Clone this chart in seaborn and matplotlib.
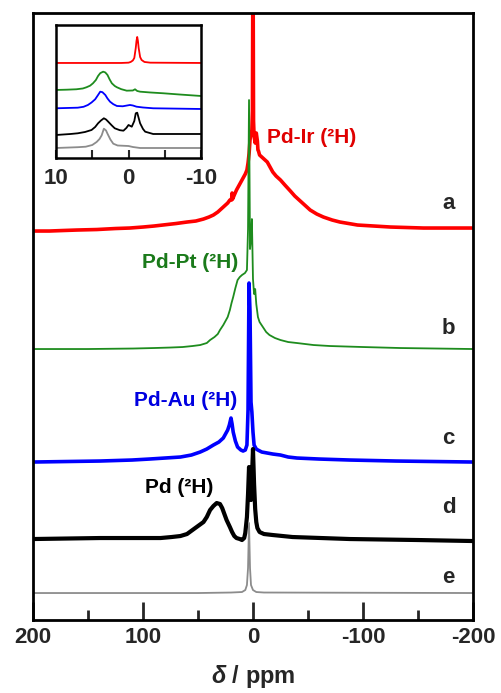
import numpy as np
import pandas as pd
import matplotlib
matplotlib.use("Agg")
import matplotlib.pyplot as plt
import seaborn as sns

# main spectra (chemical shift in ppm, intensity above own baseline)
red_ppm = [200, 185, 173, 160, 142, 125, 112, 100, 90, 82, 70, 60, 52, 45, 40, 36, 32, 27, 23, 21,
           19.5, 19, 18.5, 17, 15, 12, 9, 7, 5.5, 4.5, 3.5, 2.7, 1.8, 1, 0.5, 0, -0.5, -1, -2, -3,
           -4, -4.5, -5, -6, -8, -10, -13, -15, -18, -21, -25, -29, -34, -38, -43, -48, -52, -58,
           -64, -72, -79, -87, -95, -110, -125, -140, -155, -180, -200]
red_int = [0, 0, 0.5, 1, 1.5, 2.5, 3, 4, 5, 6, 7.5, 9, 10, 12, 14, 16, 19, 24, 28, 31,
           31, 38, 32, 36, 41, 47, 53, 57, 61, 68, 78, 91, 98, 101, 120, 300, 110, 95, 88, 98,
           90, 81, 80, 76, 74, 72, 69, 65, 59, 55, 51, 46, 40, 35, 30, 25, 21, 17,
           14, 11, 9, 7.5, 6, 5, 4, 3.5, 3, 3, 3]

green_ppm = [200, 150, 109, 90, 75, 64, 55, 48, 42, 39, 35, 32, 30, 27, 25, 23, 21, 19.5, 18, 16,
             14, 12, 10, 7.3, 5.5, 4.5, 3.6, 2.7, 1.8, 1, 0, -1, -2, -3, -4.5, -6, -9, -12, -15,
             -20, -25, -32, -40, -55, -70, -100, -134, -200]
green_int = [0, 0, 0.5, 1, 1.5, 2, 3, 4, 6, 9, 12, 15, 19, 24, 28, 32, 39, 46, 52, 61,
             69, 72, 74, 76, 79, 120, 249, 100, 110, 130, 70, 55, 60, 45, 32, 27, 22, 17, 14,
             11, 9, 7, 6, 4, 3, 2, 1, 0]

blue_ppm = [200, 139, 110, 94, 80, 66, 56, 48, 42, 36, 31, 27, 25, 23, 21.5, 20, 19, 18, 16, 14,
            11, 9, 7, 5.5, 4.5, 3.6, 2.7, 1.8, 1, 0, -1, -3, -4.5, -8, -13, -18, -25, -32, -40,
            -60, -88, -130, -200]
blue_int = [0, 1, 2, 3, 4, 5, 7, 10, 13, 17, 20, 24, 28, 32, 37, 44, 38, 30, 21, 15,
            12, 11, 12, 17, 52, 179, 150, 60, 50, 30, 17, 13, 12, 10, 9, 8, 7, 5, 4,
            3, 2, 1, 0]

black_ppm = [200, 139, 100, 84, 74, 66, 60, 55, 50, 45, 42, 39, 36, 33, 30, 28, 26, 24, 21, 19,
             17, 15, 12, 10, 8, 7, 5.5, 4.5, 3.6, 2.7, 1.8, 1, 0, -1, -2, -3, -4, -6, -10, -18,
             -36, -88, -150, -200]
black_int = [0, 1, 1, 1, 2, 3, 5, 9, 13, 17, 22, 29, 33, 36, 35, 31, 25, 19, 12, 7,
             3, 1, 0, -1, 1, 6, 22, 45, 72, 50, 39, 60, 90, 55, 30, 17, 11, 7, 5, 4,
             2, 0, -1, -2]

gray_ppm = [200, 50, 20, 10, 7, 5.5, 4.5, 3.6, 2.7, 1.8, 0, -3, -10, -200]
gray_int = [0, 0, 0.5, 1, 3, 8, 25, 70, 25, 8, 3, 1, 0.5, 0]

# inset (-10..10 ppm)
ins_red_ppm = [10, 1, 0, -0.3, -0.6, -0.8, -1.0, -1.1, -1.2, -1.3, -1.4, -1.6, -1.8, -2.2, -3, -10]
ins_red_int = [0, 0, 0.3, 1, 2.5, 5, 15, 22, 26, 22, 15, 6, 3, 1, 0.3, 0]
ins_green_ppm = [10, 8.5, 7.2, 6.3, 5.8, 5.3, 4.9, 4.5, 4.2, 3.9, 3.5, 3.2, 2.9, 2.6, 2.3, 1.9,
                 1.6, 1.0, 0.25, -0.6, -0.9, -1.2, -1.6, -3, -4.8, -7, -10]
ins_green_int = [6, 6.3, 6.7, 7.5, 8.7, 10.3, 12.7, 16, 20, 22.8, 24.3, 23.5, 21, 16.5, 12.7, 10,
                 8.7, 6.8, 5.3, 5.5, 6.7, 5.0, 4.3, 3.5, 2.7, 1.5, 0]
ins_blue_ppm = [10, 7, 6.2, 5.6, 5.1, 4.6, 4.2, 3.9, 3.6, 3.2, 2.9, 2.55, 2.1, 1.6, 0.8, -0.2,
                -0.6, -1.1, -2, -3.4, -10]
ins_blue_int = [0.7, 1.3, 2.2, 4, 6.5, 9.7, 14, 17.3, 16.8, 14, 10.5, 7.3, 4.8, 3, 2.7, 4,
                3.5, 2.3, 1.5, 0.7, 0]
ins_black_ppm = [10, 8, 7, 6, 5.1, 4.6, 4.2, 3.8, 3.4, 3.1, 2.8, 2.3, 1.9, 1.2, 0.7, 0.3, 0.0,
                 -0.45, -0.8, -1.0, -1.2, -1.4, -1.6, -2.0, -2.3, -3.4, -10]
ins_black_int = [0, 1, 1.7, 3, 5, 8, 11.7, 14.5, 16.7, 15.5, 13.3, 9.5, 6.7, 4.8, 4.3, 7, 10,
                 8.3, 14, 21.7, 22.3, 17, 11.7, 6, 3.3, 1, 1]
ins_gray_ppm = [10, 7, 5.9, 5, 4.4, 4.0, 3.7, 3.4, 3.1, 2.9, 2.5, 2.1, 1.5, 0.0, -0.6, -1.6, -10]
ins_gray_int = [0, 0.8, 1.3, 3, 6, 9, 12.7, 19.3, 17.5, 14.3, 8.5, 4.3, 2.5, 2, 1, 0, 0]

sample_labels = ["Pd-Ir (\u00b2H)", "Pd-Pt (\u00b2H)", "Pd-Au (\u00b2H)", "Pd (\u00b2H)"]
trace_letters = ["a", "b", "c", "d", "e"]

sns.set_theme(style="white")
plt.rcParams['font.family'] = ['Liberation Sans', 'DejaVu Sans']
plt.rcParams['font.weight'] = 'bold'
plt.rcParams['axes.unicode_minus'] = False
plt.rcParams['mathtext.fontset'] = 'custom'
plt.rcParams['mathtext.it'] = 'Liberation Sans:italic:bold'
plt.rcParams['mathtext.rm'] = 'Liberation Sans:bold'

fig = plt.figure(figsize=(5.02, 6.93), dpi=100)
ax = fig.add_axes([0.0657, 0.1053, 0.8765, 0.8759])

main = [
    (red_ppm, red_int, 389, "#ff0000", 2.6),
    (green_ppm, green_int, 271, "#1e8c1e", 1.3),
    (blue_ppm, blue_int, 158, "#0000ff", 2.6),
    (black_ppm, black_int, 81, "#000000", 3.0),
    (gray_ppm, gray_int, 27, "#8c8c8c", 1.3),
]
for ppm, inten, off, col, lw in main:
    df = pd.DataFrame({"ppm": ppm, "y": np.array(inten) + off})
    sns.lineplot(data=df, x="ppm", y="y", ax=ax, color=col, linewidth=lw, sort=False)

ax.set_xlim(200, -200)
ax.set_ylim(0, 607)
ax.set_yticks([])
ax.set_ylabel("")
ax.set_xticks([200, 100, 0, -100, -200])
ax.set_xticks([150, 50, -50, -150], minor=True)
ax.tick_params(axis="x", which="major", direction="in", length=13, width=2,
               labelsize=16, pad=5, bottom=True)
ax.tick_params(axis="x", which="minor", direction="in", length=7, width=2, bottom=True)
for lab in ax.get_xticklabels():
    lab.set_fontweight("bold")
for sp in ax.spines.values():
    sp.set_linewidth(2)
    sp.set_color("black")
ax.set_xlabel(r"$\mathit{\delta}$ / ppm", fontsize=17, fontweight="bold", labelpad=11)

ax.text(-13, 483, sample_labels[0], color="#e00000", fontsize=15, fontweight="bold", va="center", ha="left")
ax.text(57, 358, sample_labels[1], color="#1a7a1a", fontsize=15, fontweight="bold", va="center", ha="center")
ax.text(61, 220, sample_labels[2], color="#0000e0", fontsize=15, fontweight="bold", va="center", ha="center")
ax.text(67, 133, sample_labels[3], color="black", fontsize=15, fontweight="bold", va="center", ha="center")
for letter, yy in zip(trace_letters, [417, 292, 182, 113, 43]):
    ax.text(-178, yy, letter, fontsize=16, fontweight="bold", va="center", ha="center")

# inset
axi = fig.add_axes([0.1116, 0.772, 0.2888, 0.192])
inset = [
    (ins_red_ppm, ins_red_int, 95, "#ff0000"),
    (ins_green_ppm, ins_green_int, 62, "#1e8c1e"),
    (ins_blue_ppm, ins_blue_int, 49, "#0000ff"),
    (ins_black_ppm, ins_black_int, 23, "#000000"),
    (ins_gray_ppm, ins_gray_int, 10, "#8c8c8c"),
]
for ppm, inten, off, col in inset:
    df = pd.DataFrame({"ppm": ppm, "y": np.array(inten) + off})
    sns.lineplot(data=df, x="ppm", y="y", ax=axi, color=col, linewidth=1.3, sort=False)
axi.set_xlim(10, -10)
axi.set_ylim(0, 133)
axi.set_yticks([])
axi.set_xlabel("")
axi.set_ylabel("")
axi.set_xticks([10, 0, -10])
axi.set_xticks([5, -5], minor=True)
axi.tick_params(axis="x", which="both", direction="in", length=6, width=1.5,
                labelsize=16, pad=7, bottom=True)
for lab in axi.get_xticklabels():
    lab.set_fontweight("bold")
for sp in axi.spines.values():
    sp.set_linewidth(1.8)
    sp.set_color("black")

fig.savefig("out.png", dpi=100)
